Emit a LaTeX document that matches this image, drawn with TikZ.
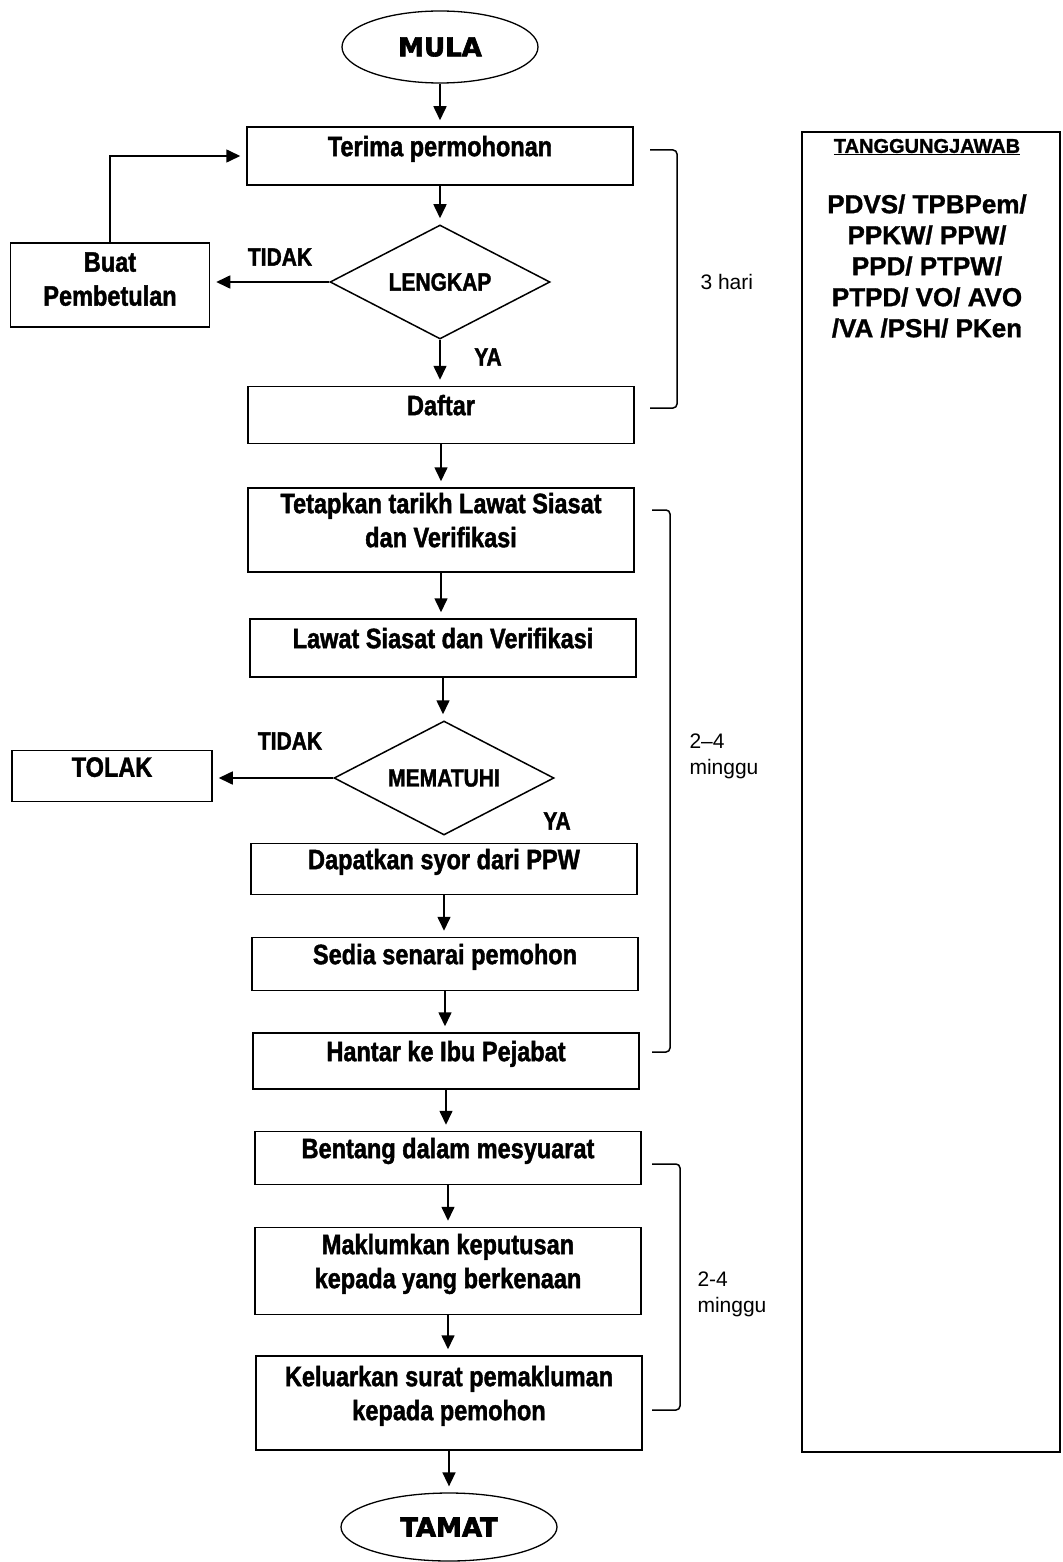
\documentclass[tikz,border=0pt]{standalone}
\usepackage{fontspec}
\setmainfont{Liberation Sans}[BoldFeatures={FakeBold=1.2}]
\newfontfamily\narrowfont[FakeStretch=0.84,BoldFeatures={FakeBold=1.5}]{Liberation Sans}
\newfontfamily\widefont[BoldFeatures={FakeBold=2.5}]{DejaVu Sans}
\usetikzlibrary{shapes.geometric,arrows.meta}

\tikzset{
  box/.style={draw, line width=1.5pt, minimum width=386pt, inner sep=0pt, align=center,
    text depth=20pt, font=\narrowfont\bfseries\fontsize{28}{34}\selectfont},
  sidebox/.style={draw, line width=1.5pt, inner sep=0pt, align=center,
    font=\narrowfont\bfseries\fontsize{28}{34}\selectfont},
  decision/.style={draw, diamond, aspect=2, line width=1.5pt, inner sep=0pt,
    minimum width=220pt, minimum height=114pt, font=\narrowfont\bfseries\fontsize{25}{30}\selectfont},
  terminal/.style={draw, ellipse, line width=1.3pt, minimum width=196pt, minimum height=72pt,
    font=\widefont\bfseries\fontsize{26}{30}\selectfont},
  flow/.style={line width=1.6pt, -{Triangle[length=14pt,width=13pt]}, shorten >=6pt},
  bracket/.style={line width=1.5pt, rounded corners=4pt},
  tag/.style={font=\narrowfont\bfseries\fontsize{25}{30}\selectfont},
  note/.style={anchor=west, align=left, font=\fontsize{21}{26}\selectfont},
}

\begin{document}
\begin{tikzpicture}[x=1pt,y=-1pt]
\useasboundingbox (0,0) rectangle (1062,1562);

% main column
\node[terminal] (mula) at (440,47) {MULA};
\node[box, minimum height=58pt] (terima) at (440,156) {Terima permohonan};
\node[decision] (lengkap) at (440,282) {LENGKAP};
\node[sidebox, minimum width=199pt, minimum height=84pt, text depth=12pt] (betul) at (110,285) {Buat\\Pembetulan};
\node[box, minimum height=57pt] (daftar) at (441,415) {Daftar};
\node[box, minimum height=84pt] (tetapkan) at (441,530) {Tetapkan tarikh Lawat Siasat\\dan Verifikasi};
\node[box, minimum height=58pt] (lawat) at (443,648) {Lawat Siasat dan Verifikasi};
\node[decision] (patuh) at (444,778) {MEMATUHI};
\node[sidebox, minimum width=200pt, minimum height=51pt, text depth=18pt] (tolak) at (112,776) {TOLAK};
\node[box, minimum height=51pt] (syor) at (444,869) {Dapatkan syor dari PPW};
\node[box, minimum height=53pt] (sedia) at (445,964) {Sedia senarai pemohon};
\node[box, minimum height=56pt] (hantar) at (446,1061) {Hantar ke Ibu Pejabat};
\node[box, minimum height=53pt] (bentang) at (448,1158) {Bentang dalam mesyuarat};
\node[box, minimum height=87pt] (maklum) at (448,1271) {Maklumkan keputusan\\kepada yang berkenaan};
\node[box, minimum height=94pt] (keluar) at (449,1403) {Keluarkan surat pemakluman\\kepada pemohon};
\node[terminal, minimum width=216pt, minimum height=68pt] (tamat) at (449,1527) {TAMAT};

% labels on the branches
\node[tag] (tidaka) at (280,257) {TIDAK};
\node[tag] (yaa) at (488,357) {YA};
\node[tag] (tidakb) at (290,741) {TIDAK};
\node[tag] (yab) at (557,821) {YA};

% connectors
\draw[flow] (mula) -- (terima);
\draw[flow] (terima) -- (lengkap);
\draw[flow] (lengkap.west) -- (lengkap.west -| betul.east);
\draw[flow] (betul.north) |- (terima.west);
\draw[flow] (lengkap.south) -- (lengkap.south |- daftar.north);
\draw[flow] (daftar.south) -- (daftar.south |- tetapkan.north);
\draw[flow] (tetapkan.south) -- (tetapkan.south |- lawat.north);
\draw[flow] (lawat.south) -- (lawat.south |- patuh.north);
\draw[flow] (patuh.west) -- (patuh.west -| tolak.east);
\draw[flow] (syor.south) -- (syor.south |- sedia.north);
\draw[flow] (sedia.south) -- (sedia.south |- hantar.north);
\draw[flow] (hantar.south) -- (hantar.south |- bentang.north);
\draw[flow] (bentang.south) -- (bentang.south |- maklum.north);
\draw[flow] (maklum.south) -- (maklum.south |- keluar.north);
\draw[flow] (keluar.south) -- (keluar.south |- tamat.north);

% time brackets
\draw[bracket] (650,150) -- (677,150) -- (677,408) -- (650,408);
\node[note] (hari) at (697,282) {3 hari};
\draw[bracket] (652,510) -- (670,510) -- (670,1052) -- (652,1052);
\node[note] (mingga) at (686,756) {2--4\\minggu};
\draw[bracket] (652,1164) -- (680,1164) -- (680,1410) -- (652,1410);
\node[note] (minggb) at (694,1294) {2-4\\minggu};

% responsibility panel
\draw[line width=1.3pt] (802,132) rectangle (1060,1452);
\node[font=\bfseries\fontsize{20}{24}\selectfont] (tj) at (927,147) {\underline{TANGGUNGJAWAB}};
\node[align=center, font=\bfseries\fontsize{26}{31}\selectfont] (staf) at (927,266)
  {PDVS/ TPBPem/\\PPKW/ PPW/\\PPD/ PTPW/\\PTPD/ VO/ AVO\\/VA /PSH/ PKen};
\end{tikzpicture}
\end{document}
